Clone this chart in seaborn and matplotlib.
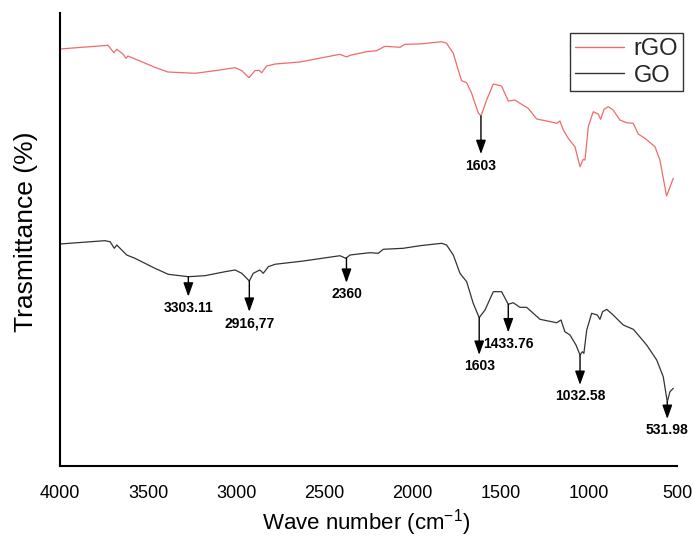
import numpy as np
import pandas as pd
import matplotlib
matplotlib.use('Agg')
import matplotlib.pyplot as plt
import seaborn as sns

# ---------------- data ----------------
rgo_wave = [4000, 3728, 3694, 3678, 3643, 3626, 3614, 3537, 3462, 3388, 3234, 3121, 3007,
            2968, 2928, 2894, 2871, 2856, 2828, 2780, 2639, 2412, 2374, 2355, 2260, 2204,
            2157, 2071, 2043, 1958, 1835, 1807, 1769, 1741, 1722, 1693, 1665, 1627, 1612,
            1580, 1542, 1495, 1457, 1419, 1391, 1344, 1296, 1239, 1183, 1164, 1145, 1117,
            1079, 1050, 1032, 1022, 1003, 975, 947, 933, 914, 890, 862, 824, 786, 748, 720,
            682, 625, 597, 559, 521]
rgo_trans = [92.05, 92.87, 91.24, 91.99, 90.95, 90.0, 90.5, 89.25, 88.01, 86.98, 86.69, 87.26,
             87.92, 87.26, 85.72, 87.26, 87.35, 86.82, 88.30, 88.74, 89.18, 90.88, 90.29, 90.66,
             91.46, 91.68, 92.65, 92.43, 93.09, 93.16, 93.66, 93.31, 91.11, 87.42, 85.06, 84.61,
             82.27, 77.92, 77.26, 80.79, 84.33, 83.89, 80.57, 80.79, 80.07, 78.96, 76.60, 76.16,
             75.65, 76.16, 74.17, 72.34, 70.49, 66.07, 67.70, 67.55, 74.90, 78.21, 77.70, 76.53,
             78.74, 79.32, 78.59, 76.38, 75.78, 75.65, 73.29, 72.34, 70.49, 67.55, 59.60, 63.51]

go_wave = [4000, 3745, 3716, 3692, 3678, 3631, 3622, 3575, 3461, 3386, 3272, 3178, 3064, 3007,
           2969, 2926, 2904, 2866, 2847, 2818, 2780, 2620, 2412, 2378, 2355, 2242, 2195, 2166,
           2053, 1958, 1835, 1807, 1769, 1731, 1693, 1656, 1622, 1589, 1542, 1495, 1457, 1429,
           1391, 1353, 1277, 1183, 1158, 1136, 1107, 1073, 1050, 1037, 1028, 1012, 984, 952,
           937, 922, 899, 862, 805, 748, 720, 672, 615, 578, 555, 540, 521]
go_trans = [49.01, 49.74, 49.51, 48.06, 48.79, 46.95, 46.58, 45.85, 43.64, 42.32, 41.79, 42.01,
            42.89, 43.27, 42.54, 40.84, 42.54, 43.27, 42.54, 44.00, 44.53, 45.25, 46.42, 45.85,
            46.58, 47.09, 46.95, 47.84, 48.06, 48.63, 49.16, 48.79, 46.58, 42.54, 40.68, 35.92,
            32.74, 34.44, 38.48, 38.48, 35.70, 36.05, 35.03, 35.03, 32.38, 31.63, 32.23, 29.65,
            28.92, 26.71, 24.50, 25.23, 24.88, 30.02, 33.71, 33.33, 32.38, 34.06, 34.59, 33.33,
            31.13, 30.18, 28.92, 26.71, 23.40, 19.71, 14.19, 16.40, 17.15]

# peak labels: (series, wave number where the arrow sits, text, arrow length)
peak_series = ['rGO', 'GO', 'GO', 'GO', 'GO', 'GO', 'GO', 'GO']
peak_wave = [1612, 3272, 2926, 2375, 1622, 1457, 1050, 555]
peak_text = ['1603', '3303.11', '2916,77', '2360', '1603', '1433.76', '1032.58', '531.98']
peak_len = [8.4, 4.4, 6.8, 5.5, 8.2, 6.2, 6.6, 3.8]

df = pd.concat([
    pd.DataFrame({'wave': rgo_wave, 'trans': rgo_trans, 'sample': 'rGO'}),
    pd.DataFrame({'wave': go_wave, 'trans': go_trans, 'sample': 'GO'}),
])

# ---------------- style ----------------
sns.set_theme(style='white')
plt.rcParams['font.family'] = ['Liberation Sans', 'DejaVu Sans']
plt.rcParams['mathtext.default'] = 'regular'

fig = plt.figure(figsize=(6.92, 5.37), dpi=100)
ax = fig.add_axes([0.0867, 0.1322, 0.8916, 0.8436])

colors = {'rGO': '#f26a6a', 'GO': '#333333'}
sns.lineplot(data=df, x='wave', y='trans', hue='sample', palette=colors,
             hue_order=['rGO', 'GO'], linewidth=0.9, sort=False, ax=ax)

ax.set_xlim(4000, 500)
ax.set_ylim(0, 100)
ax.set_xticks([4000, 3500, 3000, 2500, 2000, 1500, 1000, 500])
ax.set_yticks([])
ax.tick_params(axis='x', length=0, pad=14, labelsize=13, colors='black')
for s in ['top', 'right']:
    ax.spines[s].set_visible(False)
for s in ['left', 'bottom']:
    ax.spines[s].set_color('black')
    ax.spines[s].set_linewidth(1.5)

ax.set_xlabel('Wave number (cm$^{-1}$)', fontsize=16, color='black')
ax.set_ylabel('Trasmittance (%)', fontsize=19, color='black')
ax.xaxis.set_label_coords(0.497, -0.090)
ax.yaxis.set_label_coords(-0.035, 0.518)

# ---------------- peak arrows ----------------
curves = {'rGO': (rgo_wave, rgo_trans), 'GO': (go_wave, go_trans)}
for ser, w, txt, ln in zip(peak_series, peak_wave, peak_text, peak_len):
    ww, tt = curves[ser]
    y0 = np.interp(w, ww[::-1], tt[::-1])
    ax.annotate('', xy=(w, y0 - ln), xytext=(w, y0),
                arrowprops=dict(arrowstyle='-|>,head_length=0.7,head_width=0.25',
                                color='black', lw=1.0, shrinkA=0, shrinkB=0))
    ax.text(w, y0 - ln - 1.0, txt, ha='center', va='top', fontsize=10,
            fontweight='bold', color='black')

# ---------------- legend ----------------
leg = ax.legend(loc='upper right', bbox_to_anchor=(0.987, 0.938),
                bbox_transform=fig.transFigure, fontsize=17, frameon=True,
                fancybox=False, handlelength=2.1, handletextpad=0.4,
                borderpad=0.2, labelspacing=0.2, borderaxespad=0)
leg.get_frame().set_edgecolor('black')
leg.get_frame().set_linewidth(1.0)
for line in leg.get_lines():
    line.set_linewidth(1.0)

fig.savefig('out.png', dpi=100)
